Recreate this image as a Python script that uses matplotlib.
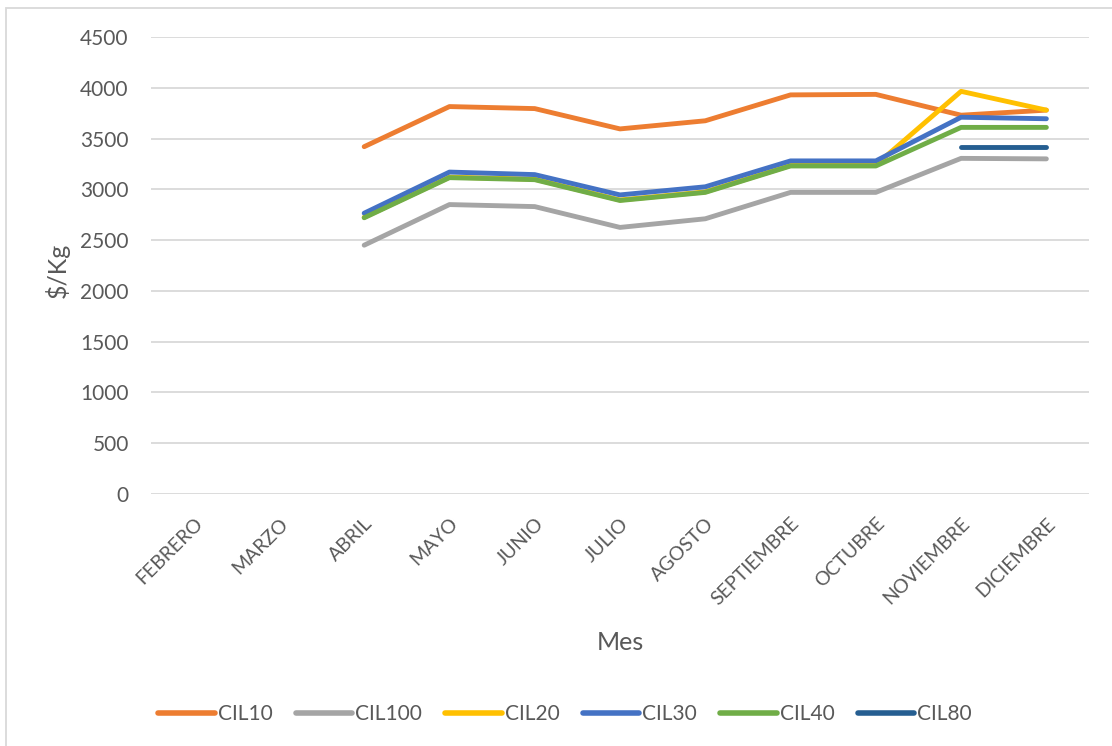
import numpy as np
import matplotlib
matplotlib.use('Agg')
import matplotlib.pyplot as plt
from matplotlib.patches import Rectangle

nan = np.nan

# Meses y precios ($/Kg) por referencia
meses = ['FEBRERO', 'MARZO', 'ABRIL', 'MAYO', 'JUNIO', 'JULIO', 'AGOSTO',
         'SEPTIEMBRE', 'OCTUBRE', 'NOVIEMBRE', 'DICIEMBRE']
cil10 = [nan, nan, 3420, 3815, 3795, 3595, 3675, 3930, 3935, 3730, 3780]
cil100 = [nan, nan, 2450, 2850, 2830, 2625, 2710, 2970, 2970, 3305, 3300]
cil20 = [nan, nan, 2725, 3120, 3100, 2895, 2975, 3235, 3240, 3965, 3780]
cil30 = [nan, nan, 2765, 3170, 3145, 2945, 3025, 3280, 3280, 3710, 3695]
cil40 = [nan, nan, 2720, 3115, 3095, 2890, 2970, 3230, 3230, 3610, 3610]
cil80 = [nan, nan, nan, nan, nan, nan, nan, nan, nan, 3420, 3420]

series = [('CIL10', cil10, '#ED7D31'),
          ('CIL100', cil100, '#A5A5A5'),
          ('CIL20', cil20, '#FFC000'),
          ('CIL30', cil30, '#4472C4'),
          ('CIL40', cil40, '#70AD47'),
          ('CIL80', cil80, '#255E91')]

txt = '#595959'
plt.rcParams['font.family'] = ['Lato', 'DejaVu Sans']

fig = plt.figure(figsize=(11.12, 7.46), dpi=100)
ax = fig.add_axes([151 / 1112, 1 - 494 / 746, (1089 - 151) / 1112, (494 - 37) / 746])

x = np.arange(len(meses))
for name, vals, color in series:
    ax.plot(x, vals, color=color, lw=3.5, label=name,
            solid_capstyle='round', solid_joinstyle='round')

ax.set_xlim(-0.5, len(meses) - 0.5)
ax.set_ylim(0, 4500)
ax.set_yticks(np.arange(0, 4501, 500))
ax.set_xticks(x)
ax.set_xticklabels(meses, rotation=45, ha='right', va='top', rotation_mode='anchor')
ax.grid(axis='y', color='#D9D9D9', lw=1.3)
ax.set_axisbelow(True)
for s in ax.spines.values():
    s.set_visible(False)
ax.tick_params(axis='both', length=0, colors=txt)
ax.tick_params(axis='y', pad=16, labelsize=15)
ax.tick_params(axis='x', pad=15, labelsize=14)

# titulos de ejes
fig.text(57 / 1112, 1 - 270 / 746, '$/Kg', color=txt, fontsize=18,
         rotation=90, ha='center', va='center')
fig.text(620 / 1112, 1 - 643 / 746, 'Mes', color=txt, fontsize=18,
         ha='center', va='center')

leg = fig.legend(loc='center', bbox_to_anchor=(565 / 1112, 1 - 714 / 746), ncol=6,
                 frameon=False, fontsize=15, handlelength=2.7, columnspacing=1.12,
                 handletextpad=0.15)
for t in leg.get_texts():
    t.set_color(txt)
for h in leg.legend_handles:
    h.set_linewidth(4)

# borde del area del grafico
fig.patches.append(Rectangle((6 / 1112, -0.01), 1.1, 1 - 8 / 746 + 0.01,
                             transform=fig.transFigure, fill=False,
                             edgecolor='#D9D9D9', lw=1.3))

fig.savefig('out.png', dpi=100)
